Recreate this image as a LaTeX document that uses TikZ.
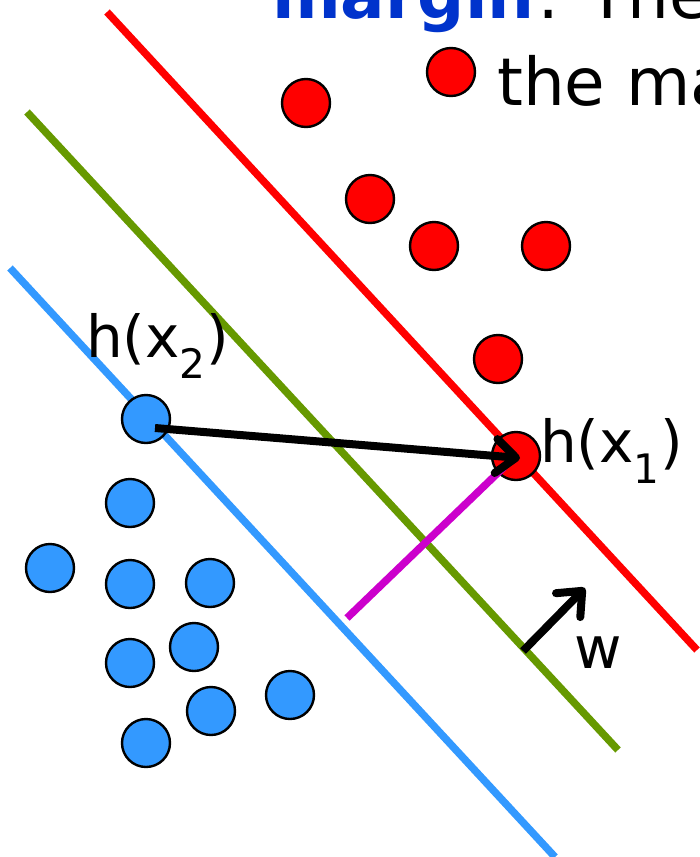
\documentclass[tikz,border=0pt]{standalone}
\usepackage{fontspec}
\setmainfont{DejaVu Sans}
\usetikzlibrary{arrows.meta}
\definecolor{lred}{HTML}{FF0000}
\definecolor{lgreen}{HTML}{669900}
\definecolor{lblue}{HTML}{3399FF}
\definecolor{lmag}{HTML}{CC00CC}
\definecolor{tblue}{HTML}{0033CC}
\begin{document}
\begin{tikzpicture}[x=1pt,y=-1pt,
  sep/.style={line width=7.5pt},
  reddot/.style={circle,draw=black,line width=2.4pt,fill=lred,minimum size=48pt,inner sep=0pt},
  bluedot/.style={circle,draw=black,line width=2.4pt,fill=lblue,minimum size=48pt,inner sep=0pt},
  lbl/.style={inner sep=0pt,font=\fontsize{58}{66}\selectfont},
  toptext/.style={inner sep=0pt,font=\fontsize{66}{76}\selectfont},
  vec/.style={line width=8pt,black,-{Straight Barb[round,length=20pt,width=34pt,line width=8pt]}}
]
\useasboundingbox (0,0) rectangle (700,857);
\clip (0,0) rectangle (700,857);
% top text
\node[toptext,anchor=base east,text=tblue,font=\fontsize{66}{76}\selectfont\bfseries] (t1) at (535,18) {margin};
\node[toptext,anchor=base west] (t2) at (537,18) {: The};
\node[toptext,anchor=base west] (t3) at (497,105) {the ma};
% separating lines
\coordinate (ra) at (107,12);  \coordinate (rb) at (697,650);
\coordinate (ga) at (27,112);  \coordinate (gb) at (618,750);
\coordinate (ba) at (10,268);  \coordinate (bb) at (555,857);
\draw[sep,lred] (ra) -- (rb);
\draw[sep,lgreen] (ga) -- (gb);
\draw[sep,lblue] (ba) -- (bb);
% red points
\node[reddot] (r1) at (516,456) {};
\node[reddot] (r2) at (306,103) {};
\node[reddot] (r3) at (451,72) {};
\node[reddot] (r4) at (370,199) {};
\node[reddot] (r5) at (434,246) {};
\node[reddot] (r6) at (546,246) {};
\node[reddot] (r7) at (498,359) {};
% blue points
\node[bluedot] (b1) at (146,419) {};
\node[bluedot] (b2) at (130,503) {};
\node[bluedot] (b3) at (50,568) {};
\node[bluedot] (b4) at (130,584) {};
\node[bluedot] (b5) at (210,583) {};
\node[bluedot] (b6) at (130,663) {};
\node[bluedot] (b7) at (194,647) {};
\node[bluedot] (b8) at (290,695) {};
\node[bluedot] (b9) at (211,711) {};
\node[bluedot] (b10) at (146,743) {};
% margin segment
\coordinate (m0) at (347,618);
\draw[line width=7.5pt,lmag] (m0) -- ([shift={(-12,11)}]r1.center);
% difference vector
\draw[vec] ([shift={(9,9)}]b1.center) -- ([shift={(4,2)}]r1.center);
% normal vector
\coordinate (w0) at (523,651);
\coordinate (w1) at (585,588);
\draw[vec] (w0) -- (w1);
% labels
\node[lbl,anchor=base west] (lx2) at (86,357) {h(x\textsubscript{2})};
\node[lbl,anchor=base west] (lx1) at (540,462) {h(x\textsubscript{1})};
\node[lbl,anchor=base west] (lw) at (574,668) {w};
\end{tikzpicture}
\end{document}
